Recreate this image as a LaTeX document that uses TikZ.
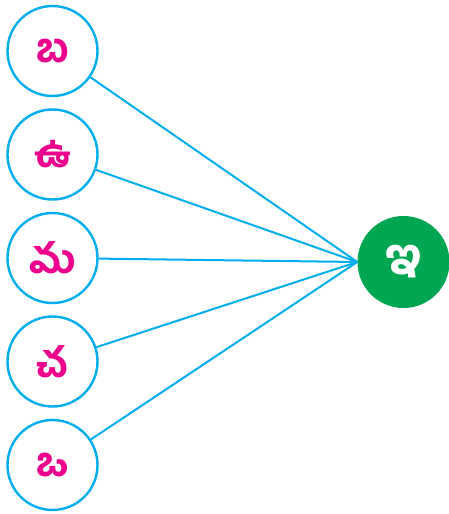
\documentclass[tikz,border=0pt]{standalone}
\usepackage{fontspec}
\newfontfamily\tel[Script=Telugu,BoldFont={Hind Guntur Bold}]{Hind Guntur}
\definecolor{lineblue}{HTML}{00AEEF}
\definecolor{letterpink}{HTML}{EC008C}
\definecolor{circgreen}{HTML}{00A651}
\begin{document}
\begin{tikzpicture}[x=1pt,y=-1pt,
  letter/.style={circle,draw=lineblue,line width=2.4pt,minimum size=90pt,inner sep=0pt,
    text=letterpink,font=\tel\bfseries\fontsize{40}{40}\selectfont},
  target/.style={circle,fill=circgreen,minimum size=92pt,inner sep=0pt},
  targettext/.style={text=white,inner sep=0pt,font=\tel\bfseries\fontsize{50}{50}\selectfont},
  link/.style={draw=lineblue,line width=2pt}]
\useasboundingbox (0,0) rectangle (448,514);
\node[letter] (l1) at (52.5,51) {బ};
\node[letter] (l2) at (52.5,154.5) {ఉ};
\node[letter] (l3) at (52.5,258) {మ};
\node[letter] (l4) at (52.5,361.5) {చ};
\node[letter] (l5) at (52.5,465) {ఒ};
\node[target] (g) at (403.5,262) {};
\node[targettext] (gt) at (g.center) {ఇ};
\foreach \i in {1,...,5}{\draw[link] (l\i) -- (g.west);}
\end{tikzpicture}
\end{document}
